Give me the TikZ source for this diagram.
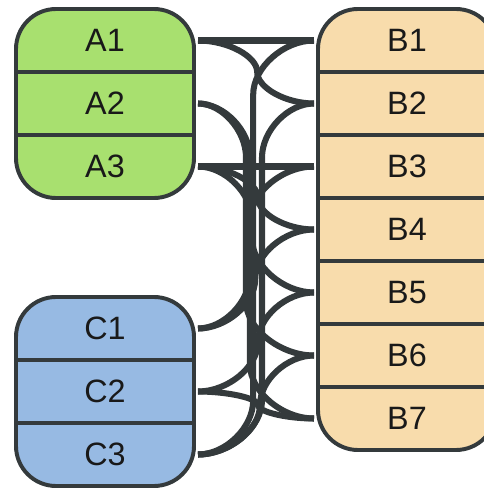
\documentclass[tikz,border=0pt]{standalone}
\usepackage{fontspec}
\setmainfont{Liberation Sans}
\usepackage{tikz}
\usetikzlibrary{positioning,calc,fit,backgrounds}

\definecolor{rowgreen}{HTML}{A8E06F}
\definecolor{rowblue}{HTML}{97BAE3}
\definecolor{rowpeach}{HTML}{F8DCAC}
\definecolor{wiregray}{HTML}{343A3C}

% column, bend radius and end gap of the links
\newcommand{\linkcol}{6.4cm}
\newcommand{\linkrad}{1.35cm}
\newcommand{\linkgap}{0.1cm}

\begin{document}
\begin{tikzpicture}
    % Define styles
    \tikzstyle{row} = [rectangle, minimum width=4.45cm, minimum height=1.575cm, inner sep=0pt, outer sep=0pt, text=black!90, font=\fontsize{23}{27}\selectfont]
    \tikzstyle{group} = [rectangle, draw=wiregray, line width=2.8pt, rounded corners=1cm, inner sep=0pt]
    \tikzstyle{divider} = [draw=wiregray, line width=2.8pt]
    \tikzstyle{link} = [draw=wiregray, line width=4.3pt, to path={let \p1=(\tikztostart), \p2=(\tikztotarget), \n1={min(abs(\y2-\y1)/2,\linkrad)}, \n2={sign(\y2-\y1)} in ({\x1+\linkgap},\y1) .. controls ({\x1+\linkgap+0.5*(\linkcol-\x1-\linkgap)},\y1) and (\linkcol,{\y1+\n2*0.5*\n1}) .. (\linkcol,{\y1+\n2*\n1}) -- (\linkcol,{\y2-\n2*\n1}) .. controls (\linkcol,{\y2-\n2*0.5*\n1}) and ({\x2-\linkgap-0.5*(\x2-\linkgap-\linkcol)},\y2) .. ({\x2-\linkgap},\y2)}]
    \tikzset{col/.code={\renewcommand{\linkcol}{#1}}}

    \useasboundingbox (0,0) rectangle (12.1,12.2);

    % Group A
    \node[row] (a1) at (2.625,11.1875) {A1};
    \node[row, below=0pt of a1] (a2) {A2};
    \node[row, below=0pt of a2] (a3) {A3};

    % Group C
    \node[row] (c1) at (2.625,3.9875) {C1};
    \node[row, below=0pt of c1] (c2) {C2};
    \node[row, below=0pt of c2] (c3) {C3};

    % Group B
    \node[row] (b1) at (10.175,11.1875) {B1};
    \node[row, below=0pt of b1] (b2) {B2};
    \node[row, below=0pt of b2] (b3) {B3};
    \node[row, below=0pt of b3] (b4) {B4};
    \node[row, below=0pt of b4] (b5) {B5};
    \node[row, below=0pt of b5] (b6) {B6};
    \node[row, below=0pt of b6] (b7) {B7};

    % Boxes behind the rows
    \begin{scope}[on background layer]
        \node[group, fill=rowgreen, fit=(a1)(a3)] (agroup) {};
        \node[group, fill=rowblue, fit=(c1)(c3)] (cgroup) {};
        \node[group, fill=rowpeach, fit=(b1)(b7)] (bgroup) {};
    \end{scope}

    % Dividers
    \draw[divider] (a1.south west) -- (a1.south east);
    \draw[divider] (a2.south west) -- (a2.south east);
    \draw[divider] (c1.south west) -- (c1.south east);
    \draw[divider] (c2.south west) -- (c2.south east);
    \draw[divider] (b1.south west) -- (b1.south east);
    \draw[divider] (b2.south west) -- (b2.south east);
    \draw[divider] (b3.south west) -- (b3.south east);
    \draw[divider] (b4.south west) -- (b4.south east);
    \draw[divider] (b5.south west) -- (b5.south east);
    \draw[divider] (b6.south west) -- (b6.south east);

    % Links
    \draw[link] (a1.east) to (b1.west);
    \draw[link, col=6.43cm] (a1.east) to (b2.west);
    \draw[link, col=6.15cm] (a2.east) to (b6.west);
    \draw[link, col=6.25cm] (a2.east) to (b7.west);
    \draw[link] (a3.east) to (b3.west);
    \draw[link, col=6.45cm] (a3.east) to (b4.west);
    \draw[link, col=6.3cm] (a3.east) to (b5.west);
    \draw[link, col=6.25cm] (c1.east) to (b3.west);
    \draw[link, col=6.38cm] (c1.east) to (b4.west);
    \draw[link, col=6.45cm] (c2.east) to (b5.west);
    \draw[link, col=6.45cm] (c2.east) to (b7.west);
    \draw[link, col=6.33cm] (c3.east) to (b1.west);
    \draw[link, col=6.55cm] (c3.east) to (b2.west);
    \draw[link, col=6.5cm] (c3.east) to (b6.west);
\end{tikzpicture}
\end{document}
